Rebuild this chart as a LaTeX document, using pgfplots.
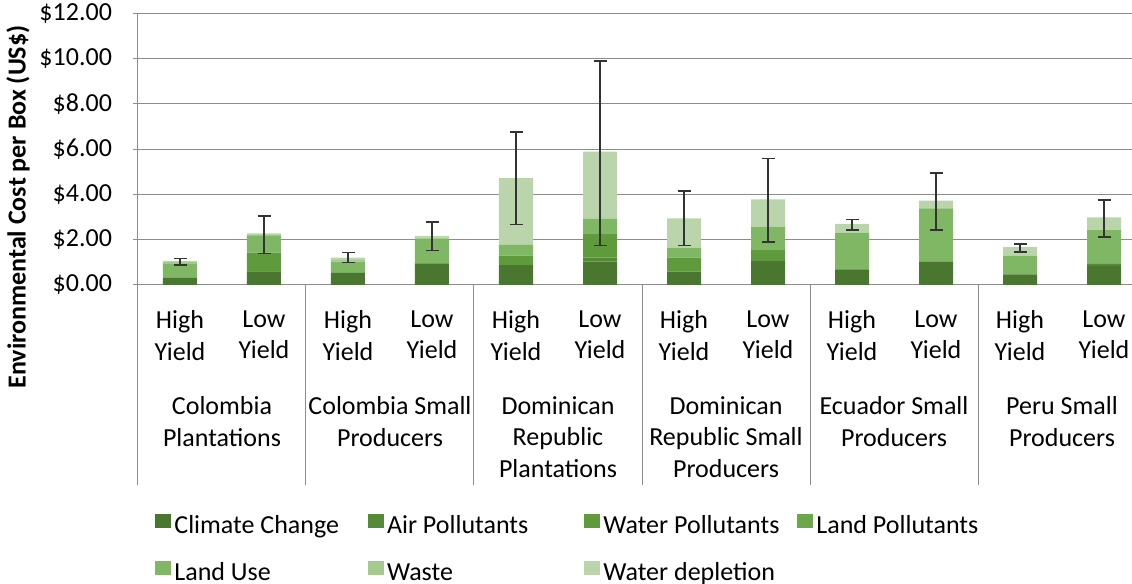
\documentclass[border=0pt]{standalone}
\usepackage{fontspec}
\setmainfont{Carlito}
\usepackage{pgfplots}
\usepackage{pgfplotstable}
\pgfplotsset{compat=1.18}
\newcommand\lbl{\fontsize{13}{15.8}\selectfont}
\definecolor{ccC}{HTML}{4A7730}
\definecolor{airC}{HTML}{558A37}
\definecolor{watC}{HTML}{5F9A3D}
\definecolor{lpC}{HTML}{6CA84A}
\definecolor{luC}{HTML}{80B764}
\definecolor{wasteC}{HTML}{A5CA90}
\definecolor{wdC}{HTML}{BAD5AB}
\definecolor{gridC}{HTML}{8C8C8C}
\pgfplotstableread{
x cc air wat lp lu waste wd
0 0.30 0.02 0.00 0.00 0.64 0.05 0.06
1 0.59 0.02 0.82 0.00 0.74 0.04 0.07
2 0.54 0.00 0.00 0.00 0.49 0.08 0.10
3 0.96 0.00 0.00 0.00 1.06 0.07 0.08
4 0.88 0.00 0.42 0.00 0.47 0.00 2.95
5 1.03 0.18 1.07 0.00 0.64 0.00 2.97
6 0.59 0.00 0.62 0.00 0.44 0.00 1.30
7 1.07 0.00 0.51 0.00 1.00 0.00 1.21
8 0.69 0.00 0.00 0.00 1.62 0.00 0.39
9 1.02 0.00 0.00 0.00 2.37 0.00 0.34
10 0.47 0.00 0.00 0.00 0.83 0.00 0.37
11 0.85 0.11 0.00 0.00 1.47 0.00 0.56
}\data
\pgfplotstableread{
x tot ep em
0 1.07 0.11 0.19
1 2.28 0.77 0.88
2 1.21 0.22 0.21
3 2.17 0.61 0.65
4 4.72 2.04 2.05
5 5.89 4.02 4.15
6 2.95 1.20 1.21
7 3.79 1.81 1.88
8 2.70 0.20 0.27
9 3.73 1.23 1.30
10 1.67 0.14 0.21
11 2.99 0.77 0.86
}\errs
\begin{document}
\lbl
\begin{tikzpicture}
\useasboundingbox (0,0) rectangle (566pt,292pt);
\clip (0,0) rectangle (566pt,292pt);
\pgfplotsset{common/.style={
  width=504pt, height=135.75pt, scale only axis,
  at={(69pt,149.5pt)}, anchor=south west,
  xmin=-0.5, xmax=11.5, ymin=0, ymax=12,
}}
\begin{axis}[common,
  ybar stacked, bar width=17pt,
  axis lines*=left,
  axis line style={gridC, line width=0.5pt},
  ymajorgrids, grid style={gridC, line width=0.5pt},
  ytick={0,2,...,12},
  yticklabels={\$0.00,\$2.00,\$4.00,\$6.00,\$8.00,\$10.00,\$12.00},
  ytick style={gridC, line width=0.5pt},
  tick align=outside, major tick length=2.5pt,
  yticklabel style={font=\lbl, xshift=-6pt},
  xtick=\empty,
  clip=false,
  legend columns=4,
  legend cell align=left,
  legend image code/.code={\fill[#1] (0pt,-0.5pt) rectangle (8pt,6.5pt);},
  legend style={draw=none, fill=none, inner sep=0pt, font=\lbl,
    at={(0,0)}, anchor=north west, xshift=8.5pt, yshift=-114.3pt,
    row sep=11pt,
    nodes={inner xsep=1.5pt, inner ysep=0pt, text height=9pt, text depth=3pt},
    /tikz/column 2/.style={column sep=13pt},
    /tikz/column 4/.style={column sep=26.5pt},
    /tikz/column 6/.style={column sep=7.5pt}},
]
\addplot[fill=ccC, draw=none] table[x=x,y=cc]{\data};
\addplot[fill=airC, draw=none] table[x=x,y=air]{\data};
\addplot[fill=watC, draw=none] table[x=x,y=wat]{\data};
\addplot[fill=lpC, draw=none] table[x=x,y=lp]{\data};
\addplot[fill=luC, draw=none] table[x=x,y=lu]{\data};
\addplot[fill=wasteC, draw=none] table[x=x,y=waste]{\data};
\addplot[fill=wdC, draw=none] table[x=x,y=wd]{\data};
\legend{Climate Change, Air Pollutants, Water Pollutants, Land Pollutants, Land Use, Waste, Water depletion}
\foreach \s in {-0.5,1.5,3.5,5.5,7.5,9.5,11.5}{
  \edef\tmp{\noexpand\draw[gridC, line width=0.5pt] (axis cs:\s,0) -- ([yshift=-100pt]axis cs:\s,0);}\tmp
}
\foreach \i in {0,2,4,6,8,10}{
  \edef\tmp{\noexpand\node[anchor=north, align=center, inner sep=0pt, font=\noexpand\lbl] at (axis cs:\i,0) [yshift=-12.5pt] {High\noexpand\\Yield};}\tmp
}
\foreach \i in {1,3,5,7,9,11}{
  \edef\tmp{\noexpand\node[anchor=north, align=center, inner sep=0pt, font=\noexpand\lbl] at (axis cs:\i,0) [yshift=-12.5pt] {Low\noexpand\\Yield};}\tmp
}
\node[anchor=north, align=center, inner sep=0pt, font=\lbl] at (axis cs:0.5,0) [yshift=-55.5pt] {Colombia\\Plantations};
\node[anchor=north, align=center, inner sep=0pt, font=\lbl] at (axis cs:2.5,0) [yshift=-55.5pt] {Colombia Small\\Producers};
\node[anchor=north, align=center, inner sep=0pt, font=\lbl] at (axis cs:4.5,0) [yshift=-55.5pt] {Dominican\\Republic\\Plantations};
\node[anchor=north, align=center, inner sep=0pt, font=\lbl] at (axis cs:6.5,0) [yshift=-55.5pt] {Dominican\\Republic Small\\Producers};
\node[anchor=north, align=center, inner sep=0pt, font=\lbl] at (axis cs:8.5,0) [yshift=-55.5pt] {Ecuador Small\\Producers};
\node[anchor=north, align=center, inner sep=0pt, font=\lbl] at (axis cs:10.5,0) [yshift=-55.5pt] {Peru Small\\Producers};
\end{axis}
\begin{axis}[common, hide axis]
\addplot[draw=none, mark=none,
  error bars/.cd, y dir=both, y explicit, error mark=-,
  error bar style={line width=0.75pt, color=black!80},
  error mark options={line width=0.75pt, mark size=3.25pt, color=black!80, rotate=90}]
  table[x=x, y=tot, y error plus=ep, y error minus=em]{\errs};
\end{axis}
\node[rotate=90, font=\lbl\bfseries] at (9pt,188.5pt) {Environmental Cost per Box (US\$)};
\end{tikzpicture}
\end{document}
